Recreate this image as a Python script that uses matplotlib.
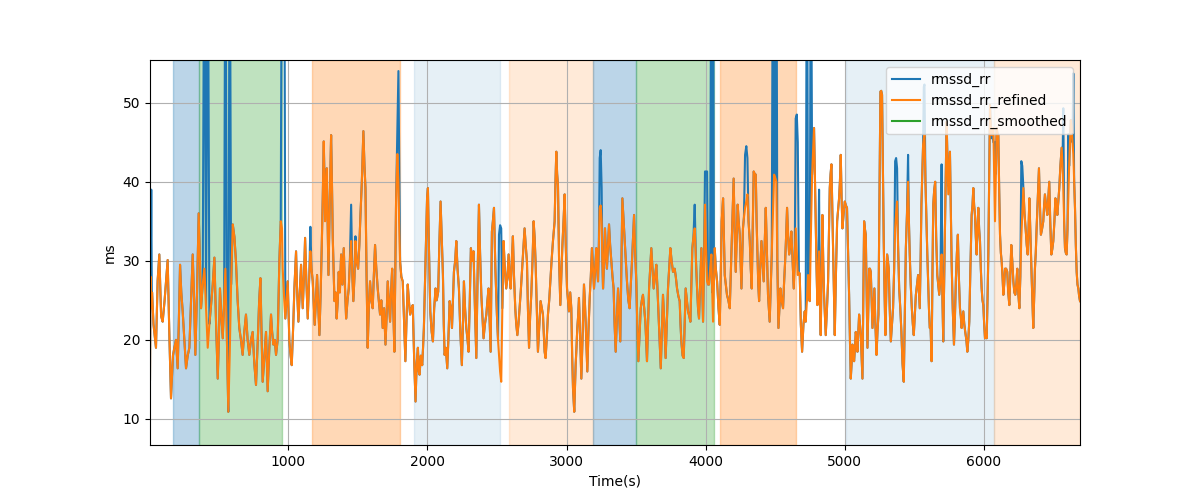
import matplotlib
matplotlib.use("Agg")
import matplotlib.pyplot as plt

# rmssd_rr_refined as (time s, ms) pairs, one list per stretch
refined_part1 = [
    (5, 15), (9, 28), (14, 24), (20, 26), (30, 22), (48, 19), (60, 27.5), (72, 30.8), (85, 23),
    (96, 22.3),
    (110, 25), (132, 30.1), (145, 20), (156, 12.6), (170, 18), (180, 19), (192, 20), (204, 16.4),
    (212, 22), (221, 29.5), (230, 26), (240, 23.6), (252, 20), (264, 16.4), (276, 18), (288, 19),
    (300, 25), (312, 30.8), (322, 25), (331, 18.1), (343, 26), (355, 36), (364, 30), (372, 24),
    (384, 27), (396, 29), (408, 24), (420, 19), (432, 22), (444, 24.4), (456, 27), (468, 30.4),
    (480, 22), (492, 15.1), (500, 20), (508, 26.5), (518, 23), (528, 20.2), (538, 25), (547, 29),
    (558, 20), (568, 10.9), (578, 18), (588, 27), (600, 34.6), (612, 33), (623, 29.9), (635, 25),
    (647, 21.5), (659, 20), (671, 18.1), (683, 21), (695, 23.2), (707, 20), (719, 18.1), (731, 20),
    (743, 21), (755, 17), (767, 14.3), (780, 20), (790, 25), (799, 27.8), (808, 20), (815, 14.7),
    (828, 18), (839, 21), (845, 17), (851, 13.5), (863, 19), (875, 23.2), (883, 21), (892, 19.4),
    (902, 20), (911, 18.1), (923, 20), (935, 30), (945, 35), (954, 34.1),
]
refined_part2 = [
    (959, 29), (970, 25), (978, 22.7), (995, 27.4), (1007, 19.8), (1016, 18), (1024, 16.8),
    (1035, 22), (1043, 26.5), (1055, 31.2), (1063, 26), (1072, 22.3), (1082, 26), (1091, 29.5),
    (1103, 24), (1112, 28), (1120, 32.9), (1130, 27), (1139, 22.7), (1150, 28), (1158, 31.2),
    (1166, 29), (1175, 27.4), (1189, 21.9), (1198, 25), (1206, 28.2), (1215, 24), (1223, 20.6),
    (1232, 26), (1240, 32), (1247, 38), (1254, 45.1), (1264, 35), (1270, 38), (1276, 41.7),
    (1282, 35), (1288, 28.2), (1298, 38), (1307, 45.9), (1313, 40), (1319, 32.9), (1331, 24.9),
    (1340, 26), (1347, 22.7), (1355, 25), (1362, 28.6), (1370, 26), (1379, 30.8), (1388, 27),
    (1398, 31.6), (1406, 27), (1415, 22.7), (1425, 25), (1434, 26.5), (1442, 30), (1451, 32.5),
    (1460, 28), (1467, 24.9), (1475, 28), (1482, 32.5), (1490, 30), (1501, 29), (1510, 32),
    (1518, 35.8), (1528, 40), (1539, 46.4), (1547, 42), (1554, 39.2), (1562, 28), (1570, 19),
    (1578, 24), (1587, 27.4), (1596, 25), (1606, 24), (1614, 28), (1623, 32), (1632, 29),
    (1642, 26.5), (1650, 25), (1659, 23.2), (1668, 25), (1678, 21.5), (1688, 24), (1698, 19.4),
    (1706, 23), (1714, 27.4), (1722, 25), (1731, 22.3), (1738, 26), (1746, 29), (1754, 24),
    (1762, 18.5), (1768, 28), (1774, 37.5), (1783, 43.5), (1791, 40), (1796, 35), (1803, 29.9),
    (1812, 28), (1822, 27.4), (1832, 22), (1841, 17.3), (1850, 23), (1858, 27), (1866, 25),
    (1875, 23.2), (1885, 24), (1894, 24.4),
]
refined_part3 = [
    (1905, 17), (1914, 12.2), (1922, 17), (1931, 19), (1937, 16), (1943, 15.6), (1952, 18),
    (1962, 16.8), (1968, 19), (1974, 21.5), (1983, 28), (1991, 33.7), (1997, 38), (2003, 39.2),
    (2010, 32), (2020, 23.6), (2030, 21), (2039, 19.8), (2048, 24), (2058, 26.5), (2066, 25),
    (2077, 26.1), (2085, 32), (2094, 37.5), (2102, 33), (2111, 28.2), (2117, 22), (2123, 18.1),
    (2132, 19), (2142, 16.4), (2150, 20), (2159, 24.9), (2168, 24), (2176, 21.5), (2183, 25),
    (2190, 28.6), (2199, 30), (2207, 32.5), (2216, 29), (2226, 26.5), (2236, 21), (2247, 16.8),
    (2255, 22), (2262, 27.4), (2270, 24), (2279, 21.5), (2288, 20), (2295, 18.5), (2304, 25),
    (2312, 31.6), (2322, 30), (2331, 31.2), (2341, 24), (2351, 17.7), (2360, 28), (2370, 37.1),
    (2378, 31), (2387, 25.7), (2395, 23), (2403, 20.2), (2413, 22), (2423, 23.2), (2431, 25),
    (2439, 26.5), (2447, 22), (2454, 18.5), (2463, 33.7), (2470, 35), (2478, 36.7), (2488, 29),
    (2499, 23.2), (2507, 20), (2514, 18.1), (2522, 16), (2530, 14.7), (2538, 24), (2547, 32.5),
    (2556, 29), (2566, 26.5), (2575, 28), (2583, 30.8), (2590, 28), (2598, 26.5), (2606, 30),
    (2614, 33.1), (2622, 28), (2631, 24), (2638, 22), (2646, 20.6), (2654, 22), (2662, 24),
    (2670, 26), (2679, 28.6), (2688, 31), (2698, 34.1), (2706, 32), (2715, 29.9), (2722, 24),
    (2730, 19), (2738, 23), (2746, 25.7), (2755, 30), (2763, 35), (2770, 33), (2777, 29.9),
    (2786, 24), (2794, 18.5), (2804, 22), (2813, 24.9), (2822, 24), (2830, 23.2),
]
refined_part4 = [
    (2842, 18.5), (2849, 17.7), (2857, 20), (2866, 23.2), (2875, 25), (2883, 27.4), (2892, 30),
    (2902, 32.5), (2914, 35), (2920, 40), (2926, 43.8), (2932, 41), (2938, 39.6), (2946, 30),
    (2955, 24.4), (2962, 28), (2969, 31.6), (2978, 35), (2986, 38.4), (2994, 32), (3003, 26.5),
    (3010, 25), (3017, 23.6), (3026, 26), (3034, 24), (3040, 18), (3046, 13.9), (3055, 10.9),
    (3060, 14), (3065, 16.8), (3071, 19), (3077, 21.5), (3083, 23), (3089, 25.3), (3098, 20),
    (3106, 15.1), (3116, 21), (3125, 27), (3131, 25), (3137, 22.3), (3143, 19), (3149, 16),
    (3157, 21), (3166, 25.3), (3174, 28), (3182, 31.6), (3190, 29), (3197, 26.5), (3205, 29),
    (3214, 31.6), (3220, 29), (3226, 27.4), (3232, 32), (3238, 36.7), (3245, 37), (3252, 35),
    (3257, 30), (3262, 26.5), (3270, 30), (3276, 34.1), (3283, 31), (3290, 29), (3298, 32),
    (3305, 34.6), (3313, 32), (3322, 29.9), (3330, 28), (3338, 26.5), (3345, 22), (3353, 18.5),
    (3362, 23), (3370, 26.5), (3378, 23), (3386, 19.8), (3393, 28), (3401, 37.9), (3410, 35),
    (3418, 32.5), (3426, 30), (3434, 27.4), (3444, 25), (3453, 24), (3462, 27), (3470, 29.9),
    (3478, 33), (3485, 35.8), (3493, 31), (3501, 27.4), (3508, 22), (3516, 17.3), (3525, 21),
    (3533, 24), (3541, 25), (3549, 25.7), (3558, 24), (3566, 22.3), (3572, 20), (3578, 17.3),
    (3586, 22), (3593, 26.5), (3601, 29), (3609, 31.6), (3618, 29), (3626, 26.5), (3636, 28),
    (3645, 29.5), (3652, 27), (3660, 23.6), (3668, 20), (3677, 16.4), (3685, 21), (3693, 25.7),
    (3703, 22), (3712, 17.7), (3720, 22), (3729, 26.5), (3737, 29), (3746, 31.6), (3755, 30),
    (3765, 28.6),
]
refined_part5 = [
    (3777, 29), (3785, 28), (3794, 26.5), (3804, 25.5), (3813, 24.9), (3819, 22), (3825, 19.8),
    (3834, 18), (3842, 17.7), (3849, 22), (3856, 26.5), (3865, 25), (3873, 23.6), (3882, 23),
    (3890, 22.3), (3897, 27), (3904, 31.6), (3912, 33), (3921, 34.1), (3930, 30), (3938, 26.5),
    (3945, 24), (3952, 22.7), (3960, 27), (3969, 31.6), (3975, 27), (3981, 22.3), (3988, 30),
    (3995, 37.1), (4002, 32), (4010, 27.4), (4017, 27), (4024, 27), (4032, 29), (4041, 30.8),
    (4047, 26), (4053, 22.3), (4059, 27), (4065, 31.6), (4073, 29), (4082, 27.4), (4092, 24),
    (4101, 21.9), (4108, 28), (4115, 35), (4125, 37.9), (4131, 33), (4137, 28.2), (4145, 27),
    (4153, 25.7), (4163, 25), (4173, 24), (4180, 28), (4187, 31.6), (4194, 36), (4201, 40.4),
    (4208, 34), (4216, 28.6), (4223, 33), (4230, 37.1), (4237, 35), (4245, 33.3), (4251, 30),
    (4257, 26.5), (4262, 30), (4268, 34.1), (4275, 35.5), (4283, 36.7), (4292, 37.5), (4300, 38.4),
    (4308, 35), (4317, 32.5), (4324, 29), (4331, 26.5), (4338, 34), (4345, 41.3), (4352, 41),
    (4360, 40.9), (4366, 35), (4372, 30.8), (4378, 27), (4384, 24.9), (4392, 29), (4401, 32.5),
    (4409, 30), (4417, 27.4), (4424, 32), (4432, 36.7), (4440, 31), (4448, 25.7), (4454, 24),
    (4460, 22.3), (4468, 27), (4475, 30.8), (4484, 36), (4492, 40.9), (4500, 40.5), (4508, 40),
    (4515, 30), (4523, 21.5), (4530, 24), (4537, 26.5), (4546, 25), (4556, 24), (4563, 27),
    (4571, 29.9), (4578, 33), (4585, 36.7), (4593, 33), (4600, 30.8), (4608, 32), (4616, 33.7),
    (4625, 30), (4633, 26.5), (4640, 30), (4647, 34.1), (4655, 31), (4662, 28.2), (4670, 28.5),
    (4676, 28.4), (4684, 22), (4693, 18.5), (4703, 22), (4712, 23.6),
]
refined_part6 = [
    (4719, 22.3), (4728, 25), (4736, 28.2), (4742, 26), (4748, 24.9), (4756, 33), (4765, 40.9),
    (4772, 44), (4779, 46.8), (4785, 41), (4791, 35), (4797, 29), (4803, 24.4), (4809, 28),
    (4815, 31.2), (4821, 25), (4827, 20.6), (4833, 28), (4839, 35.8), (4845, 30), (4851, 25.7),
    (4857, 23), (4863, 20.6), (4872, 24), (4880, 27.4), (4886, 33), (4892, 39.2), (4898, 41),
    (4904, 42.2), (4910, 37), (4916, 32), (4922, 26), (4928, 20.6), (4936, 28), (4945, 35),
    (4952, 36.5), (4959, 37.9), (4965, 40), (4971, 43.4), (4977, 38), (4983, 34.1), (4992, 36),
    (5000, 37.5), (5008, 37), (5016, 36.7), (5024, 31), (5031, 25.7), (5037, 20), (5043, 15.1),
    (5049, 17), (5055, 19.4), (5061, 18), (5067, 17.3), (5073, 19), (5079, 21), (5085, 20),
    (5091, 18.5), (5097, 21), (5103, 23.2), (5109, 22), (5115, 20.6), (5121, 18), (5127, 15.1),
    (5133, 25), (5139, 35), (5145, 34), (5151, 33.3), (5157, 26), (5163, 19), (5169, 24),
    (5175, 29), (5181, 29), (5187, 28.6), (5193, 25), (5199, 21.5), (5206, 24), (5213, 26.5),
    (5220, 22), (5228, 18.1), (5235, 21), (5242, 23.2), (5249, 37), (5256, 51.4), (5262, 51.5),
    (5268, 51), (5274, 42), (5280, 32.5), (5286, 26), (5292, 20.6), (5298, 26), (5304, 30.8),
    (5310, 30), (5316, 29), (5323, 24), (5331, 19.8), (5339, 22), (5347, 24), (5355, 29),
    (5362, 34.1), (5369, 36), (5376, 37.5), (5383, 32), (5391, 26.5), (5399, 24), (5407, 21),
    (5415, 17), (5424, 14.7), (5431, 23), (5439, 31.6), (5447, 36), (5455, 40), (5461, 35),
    (5467, 30.8), (5474, 27), (5482, 24), (5489, 22), (5496, 20.6), (5503, 23), (5511, 25.7),
    (5519, 27), (5527, 28.2), (5533, 26), (5539, 24), (5545, 30), (5551, 37.1), (5557, 41),
    (5563, 44.7), (5568, 45.5), (5573, 45.9), (5580, 40), (5587, 35), (5593, 31), (5599, 27.4),
    (5605, 24), (5611, 21.5), (5617, 21.5), (5624, 17.3), (5630, 28), (5636, 37.1), (5643, 39),
    (5650, 40),
]
refined_part7 = [
    (5657, 33), (5665, 28.2), (5672, 27), (5679, 25.7), (5688, 28), (5696, 30.8), (5702, 25),
    (5708, 19.8), (5714, 27), (5720, 35), (5726, 41), (5732, 47.6), (5738, 43), (5744, 38.4),
    (5750, 41), (5756, 43.8), (5762, 37), (5768, 29.9), (5776, 24), (5785, 19.4), (5792, 23),
    (5799, 27.8), (5806, 31), (5813, 33.3), (5820, 28), (5828, 24), (5834, 23), (5840, 21.5),
    (5846, 22.5), (5852, 23.6), (5859, 22), (5866, 21), (5874, 20), (5881, 18.5), (5888, 20),
    (5895, 22.3), (5903, 29), (5912, 35.8), (5918, 37), (5924, 39.2), (5930, 37), (5936, 35.8),
    (5942, 33), (5948, 30.8), (5954, 34), (5960, 36.7), (5966, 34), (5972, 32.5), (5978, 29),
    (5984, 26.5), (5990, 25), (5996, 24.4), (6002, 22), (6008, 20.2), (6014, 21), (6020, 20.2),
    (6026, 25), (6032, 30.8), (6038, 40), (6044, 49.7), (6050, 47), (6056, 45.9), (6062, 46),
    (6068, 46.8), (6074, 41), (6080, 35), (6086, 41), (6092, 46.8), (6098, 46), (6104, 45.9),
    (6110, 39), (6116, 33.3), (6122, 31), (6128, 29.9), (6134, 28), (6140, 25.7), (6146, 27),
    (6152, 29), (6160, 29), (6168, 28.6), (6175, 26), (6183, 24.4), (6190, 28), (6197, 32),
    (6204, 30), (6212, 27.4), (6219, 26), (6226, 25.7), (6233, 27), (6240, 29), (6247, 26),
    (6255, 24), (6262, 28), (6269, 32.9), (6276, 36), (6284, 39.2), (6292, 36), (6300, 34.1),
    (6308, 32), (6315, 30.8), (6321, 34), (6327, 37.9), (6335, 33), (6343, 28.2), (6349, 25),
    (6355, 21.5), (6361, 25), (6367, 29), (6373, 31), (6379, 34.1), (6388, 38), (6396, 41.7),
    (6403, 37), (6410, 33.3), (6418, 34), (6427, 35), (6433, 37), (6439, 38.4), (6447, 37),
    (6456, 35.8), (6463, 38), (6470, 40), (6477, 35), (6485, 30.8), (6492, 31.5), (6499, 32.5),
    (6507, 35), (6514, 37.9), (6521, 37), (6528, 35.8), (6535, 37.5), (6542, 39.2), (6550, 42),
    (6559, 44.3), (6565, 42), (6571, 39.2), (6577, 35), (6583, 31.6), (6589, 31), (6595, 30.8),
    (6601, 34), (6607, 37.9), (6613, 42), (6619, 45.1), (6625, 47.8), (6631, 47), (6637, 45),
    (6643, 43.5), (6649, 40), (6655, 36.7), (6661, 32), (6667, 28.6), (6673, 27), (6679, 26.5),
    (6685, 25.5), (6691, 24.9),
]

# rmssd_rr: same as refined except where the raw value sits higher (spikes run off the top)
rr_differs = [
    (9, 33), (12, 33), (14, 39), (18, 26),
    (396, 80), (420, 80), (547, 80), (578, 80), (954, 80), (959, 80), (970, 80),
    (1158, 34.3), (1264, 37), (1451, 37.1), (1482, 33.1), (1783, 46), (1791, 54), (1796, 44),
    (2514, 33.3), (2522, 34.5), (2530, 34.1),
    (3238, 43), (3245, 44), (3252, 39.2),
    (3921, 37.1), (3995, 41.3), (4002, 41.3), (4010, 41.3), (4041, 80), (4053, 80),
    (4283, 43.4), (4292, 44.5), (4300, 43), (4484, 80), (4508, 80),
    (4647, 48), (4655, 48.5), (4662, 45), (4728, 80), (4756, 80), (4815, 39),
    (5362, 42.6), (5369, 43), (5376, 41.7), (5455, 43.4), (5568, 52), (5573, 52.3),
    (5696, 42.2), (5744, 39.5), (6056, 45.5), (6068, 45), (6074, 45), (6080, 45),
    (6269, 42.6), (6276, 42), (6571, 49.3), (6607, 46), (6643, 53.7),
]

# rmssd_rr_smoothed has no visible values
smoothed_time = []
smoothed_values = []

# shaded stages (seconds)
span_start = [173, 355, 1170, 1906, 2583, 3190, 3497, 4101, 5012, 6074]
span_end = [355, 955, 1799, 2523, 3190, 3497, 4058, 4652, 6074, 6691]
span_color = ["tab:blue", "tab:green", "tab:orange", "tab:blue", "tab:orange",
              "tab:blue", "tab:green", "tab:orange", "tab:blue", "tab:orange"]
span_alpha = [0.3, 0.3, 0.3, 0.11, 0.16, 0.3, 0.3, 0.3, 0.11, 0.16]


def main():
    refined = (refined_part1 + refined_part2 + refined_part3 + refined_part4
               + refined_part5 + refined_part6 + refined_part7)
    ref_t = [p[0] for p in refined]
    ref_v = [p[1] for p in refined]

    rr = dict(refined)
    rr.update(dict(rr_differs))
    rr_t = sorted(rr)
    rr_v = [rr[t] for t in rr_t]

    fig, ax = plt.subplots(figsize=(12, 5))
    for s, e, c, a in zip(span_start, span_end, span_color, span_alpha):
        ax.axvspan(s, e, color=c, alpha=a)

    ax.plot(rr_t, rr_v, label="rmssd_rr")
    ax.plot(ref_t, ref_v, label="rmssd_rr_refined")
    ax.plot(smoothed_time, smoothed_values, label="rmssd_rr_smoothed")

    ax.set_xlim(ref_t[0], ref_t[-1])
    ax.set_ylim(6.7, 55.4)
    ax.set_xlabel("Time(s)")
    ax.set_ylabel("ms")
    ax.grid(True)
    ax.legend(loc="upper right")

    fig.savefig("out.png", dpi=100)


if __name__ == "__main__":
    main()
